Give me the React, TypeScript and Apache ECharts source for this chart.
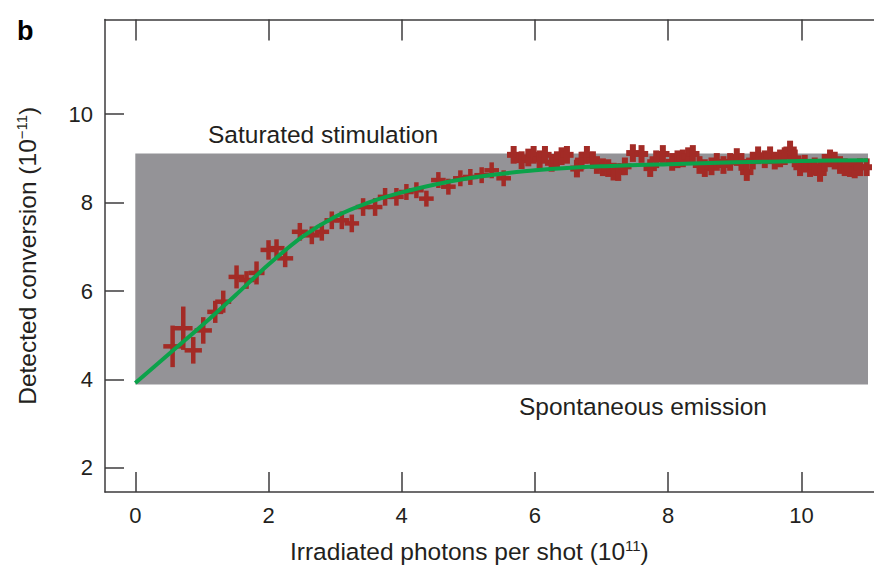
import React, { useEffect, useRef } from "react";
import * as echarts from "echarts";

// ---- data ----
const pointX = [0.56, 0.72, 0.87, 1.02, 1.2, 1.32, 1.52, 1.67, 1.82, 2.0, 2.12, 2.25, 2.47, 2.65, 2.8, 2.95, 3.1, 3.25, 3.42, 3.6, 3.75, 3.92, 4.07, 4.22, 4.37, 4.55, 4.7, 4.88, 5.03, 5.2, 5.35, 5.53, 5.68, 5.8, 5.9, 5.98, 6.07, 6.15, 6.25, 6.33, 6.4, 6.48, 6.63, 6.7, 6.78, 6.87, 6.93, 7.02, 7.1, 7.18, 7.25, 7.35, 7.47, 7.6, 7.73, 7.82, 7.92, 8.06, 8.14, 8.22, 8.3, 8.37, 8.47, 8.55, 8.65, 8.73, 8.83, 8.93, 9.03, 9.1, 9.18, 9.27, 9.35, 9.45, 9.53, 9.6, 9.68, 9.75, 9.83, 9.9, 9.98, 10.05, 10.13, 10.2, 10.28, 10.35, 10.43, 10.5, 10.58, 10.65, 10.73, 10.8, 10.88, 10.98];
const pointY = [4.75, 5.16, 4.66, 5.11, 5.53, 5.76, 6.32, 6.25, 6.41, 6.93, 6.97, 6.74, 7.34, 7.26, 7.34, 7.6, 7.6, 7.53, 7.9, 7.9, 8.13, 8.13, 8.24, 8.28, 8.09, 8.51, 8.36, 8.55, 8.58, 8.62, 8.73, 8.55, 9.08, 8.96, 9.02, 9.08, 8.98, 9.08, 8.9, 8.96, 9.05, 9.08, 8.77, 8.95, 9.08, 8.96, 8.85, 8.8, 8.78, 8.7, 8.69, 8.82, 9.12, 9.1, 8.78, 8.98, 9.1, 8.92, 8.98, 9.0, 9.05, 9.1, 8.85, 8.78, 8.82, 8.92, 8.85, 8.92, 9.03, 8.92, 8.69, 8.95, 9.07, 8.98, 9.07, 8.95, 9.0, 9.05, 9.2, 9.0, 8.8, 8.88, 8.78, 8.82, 8.67, 8.9, 9.0, 8.95, 8.85, 8.8, 8.78, 8.75, 8.8, 8.8];
const pointXErr = [0.14, 0.14, 0.13, 0.13, 0.12, 0.12, 0.12, 0.12, 0.12, 0.12, 0.12, 0.12, 0.12, 0.12, 0.11, 0.11, 0.11, 0.11, 0.11, 0.11, 0.11, 0.11, 0.11, 0.11, 0.11, 0.11, 0.11, 0.11, 0.11, 0.11, 0.11, 0.11, 0.1, 0.1, 0.1, 0.1, 0.1, 0.1, 0.1, 0.1, 0.1, 0.1, 0.1, 0.1, 0.1, 0.1, 0.1, 0.1, 0.1, 0.1, 0.1, 0.1, 0.1, 0.1, 0.1, 0.1, 0.1, 0.1, 0.1, 0.1, 0.1, 0.1, 0.1, 0.1, 0.1, 0.1, 0.1, 0.1, 0.1, 0.1, 0.1, 0.1, 0.1, 0.1, 0.1, 0.1, 0.1, 0.1, 0.1, 0.1, 0.1, 0.1, 0.1, 0.1, 0.1, 0.1, 0.1, 0.1, 0.1, 0.1, 0.1, 0.1, 0.1, 0.08];
const pointYErr = [0.47, 0.49, 0.3, 0.3, 0.25, 0.25, 0.26, 0.2, 0.26, 0.22, 0.2, 0.2, 0.2, 0.2, 0.2, 0.2, 0.2, 0.2, 0.2, 0.2, 0.2, 0.2, 0.18, 0.18, 0.18, 0.18, 0.18, 0.18, 0.18, 0.18, 0.18, 0.18, 0.2, 0.2, 0.2, 0.2, 0.2, 0.2, 0.2, 0.2, 0.2, 0.2, 0.2, 0.2, 0.2, 0.2, 0.2, 0.2, 0.2, 0.2, 0.2, 0.2, 0.2, 0.2, 0.2, 0.2, 0.2, 0.2, 0.2, 0.2, 0.2, 0.2, 0.2, 0.2, 0.2, 0.2, 0.2, 0.2, 0.2, 0.2, 0.2, 0.2, 0.2, 0.2, 0.2, 0.2, 0.2, 0.2, 0.2, 0.2, 0.2, 0.2, 0.2, 0.2, 0.2, 0.2, 0.2, 0.2, 0.2, 0.2, 0.2, 0.2, 0.2, 0.2];

const fitX = [0, 0.5, 1.0, 1.5, 2.0, 2.5, 3.0, 3.5, 4.0, 4.5, 5.0, 5.5, 6.0, 7.0, 8.0, 9.0, 10.0, 11.0];
const fitY = [3.92, 4.57, 5.22, 5.9, 6.6, 7.22, 7.68, 8.0, 8.23, 8.41, 8.55, 8.65, 8.73, 8.82, 8.87, 8.91, 8.94, 8.96];

const xTicks = [0, 2, 4, 6, 8, 10];
const yTicks = [2, 4, 6, 8, 10];

const bandX = [0, 11.0];
const bandY = [3.89, 9.11];

const FONT = "'Liberation Sans', Arial, Helvetica, sans-serif";
const TEXT = "#231f20";
const AXIS = "#3d3b3c";
const RED = "#a32b26";
const GREEN = "#0ba24a";

export default function App() {
  const ref = useRef<HTMLDivElement>(null);
  useEffect(() => {
    if (!ref.current) return;
    const chart = echarts.init(ref.current, undefined, { renderer: "svg" });
    const crosses = pointX.map((x, i) => [x, pointY[i], pointXErr[i], pointYErr[i]]);
    const fit = fitX.map((x, i) => [x, fitY[i]]);
    chart.setOption({
      animation: false,
      backgroundColor: "#ffffff",
      textStyle: { fontFamily: FONT },
      grid: { left: 105, right: 0, top: 19.5, bottom: 76, containLabel: false },
      xAxis: [
        {
          type: "value",
          position: "bottom",
          min: -0.455,
          max: 11.09,
          axisLine: { show: true, onZero: false, lineStyle: { color: AXIS, width: 1.5 } },
          axisTick: { show: true, inside: true, length: 20, customValues: xTicks, lineStyle: { color: AXIS, width: 1.5 } },
          axisLabel: { show: true, customValues: xTicks, fontSize: 22, color: TEXT, margin: 12, fontFamily: FONT },
          splitLine: { show: false },
        },
        {
          type: "value",
          position: "top",
          min: -0.455,
          max: 11.09,
          axisLine: { show: true, onZero: false, lineStyle: { color: AXIS, width: 1.5 } },
          axisTick: { show: true, inside: true, length: 21, customValues: xTicks, lineStyle: { color: AXIS, width: 1.5 } },
          axisLabel: { show: false },
          splitLine: { show: false },
        },
      ],
      yAxis: {
        type: "value",
        min: 1.457,
        max: 12.14,
        name: "Detected conversion (10{sup|−11})",
        nameLocation: "middle",
        nameGap: 64,
        nameRotate: 90,
        nameTextStyle: {
          fontSize: 24.5,
          color: TEXT,
          fontFamily: FONT,
          rich: { sup: { fontSize: 15, verticalAlign: "top", padding: [0, 0, 12, 0], color: TEXT, fontFamily: FONT } },
        },
        axisLine: { show: true, onZero: false, lineStyle: { color: AXIS, width: 1.5 } },
        axisTick: { show: true, inside: true, length: 19, customValues: yTicks, lineStyle: { color: AXIS, width: 1.5 } },
        axisLabel: { show: true, customValues: yTicks, fontSize: 22, color: TEXT, margin: 12, fontFamily: FONT },
        splitLine: { show: false },
      },
      graphic: [
        {
          type: "text",
          left: 17,
          top: 17,
          style: { text: "b", font: `bold 27px ${FONT}`, fill: "#000" },
        },
        {
          type: "text",
          x: 208,
          y: 134,
          style: { text: "Saturated stimulation", font: `24.5px ${FONT}`, fill: TEXT, textVerticalAlign: "middle" },
        },
        {
          type: "text",
          x: 519,
          y: 406,
          style: { text: "Spontaneous emission", font: `24.5px ${FONT}`, fill: TEXT, textVerticalAlign: "middle" },
        },
        {
          type: "text",
          x: 290,
          y: 551,
          style: {
            text: "Irradiated photons per shot (10{sup|11})",
            font: `24.5px ${FONT}`,
            fill: TEXT,
            textVerticalAlign: "middle",
            rich: { sup: { fontSize: 15, verticalAlign: "top", padding: [0, 0, 12, 0], fill: TEXT, fontFamily: FONT } },
          },
        },
      ],
      series: [
        {
          type: "line",
          xAxisIndex: 0,
          data: [],
          z: 1,
          silent: true,
          markArea: {
            silent: true,
            itemStyle: { color: "#949397", opacity: 1 },
            data: [[{ coord: [bandX[0], bandY[1]] }, { coord: [bandX[1], bandY[0]] }]],
          },
        },
        {
          type: "custom",
          xAxisIndex: 0,
          z: 3,
          data: crosses,
          encode: { x: 0, y: 1 },
          renderItem: (params: any, api: any) => {
            const x = api.value(0);
            const y = api.value(1);
            const ex = api.value(2);
            const ey = api.value(3);
            const l = api.coord([x - ex, y]);
            const r = api.coord([x + ex, y]);
            const t = api.coord([x, y + ey]);
            const b = api.coord([x, y - ey]);
            const style = { stroke: RED, lineWidth: x > 5.6 ? 6 : 4.5, lineCap: "butt" };
            return {
              type: "group",
              children: [
                { type: "line", shape: { x1: l[0], y1: l[1], x2: r[0], y2: r[1] }, style },
                { type: "line", shape: { x1: t[0], y1: t[1], x2: b[0], y2: b[1] }, style },
              ],
            };
          },
        },
        {
          type: "line",
          xAxisIndex: 0,
          z: 5,
          data: fit,
          smooth: 0.3,
          showSymbol: false,
          lineStyle: { color: GREEN, width: 4 },
        },
      ],
    });
    return () => chart.dispose();
  }, []);
  return (
    <div
      ref={ref}
      style={{ position: "fixed", left: 0, top: 0, width: 874, height: 568, background: "#fff" }}
    />
  );
}
